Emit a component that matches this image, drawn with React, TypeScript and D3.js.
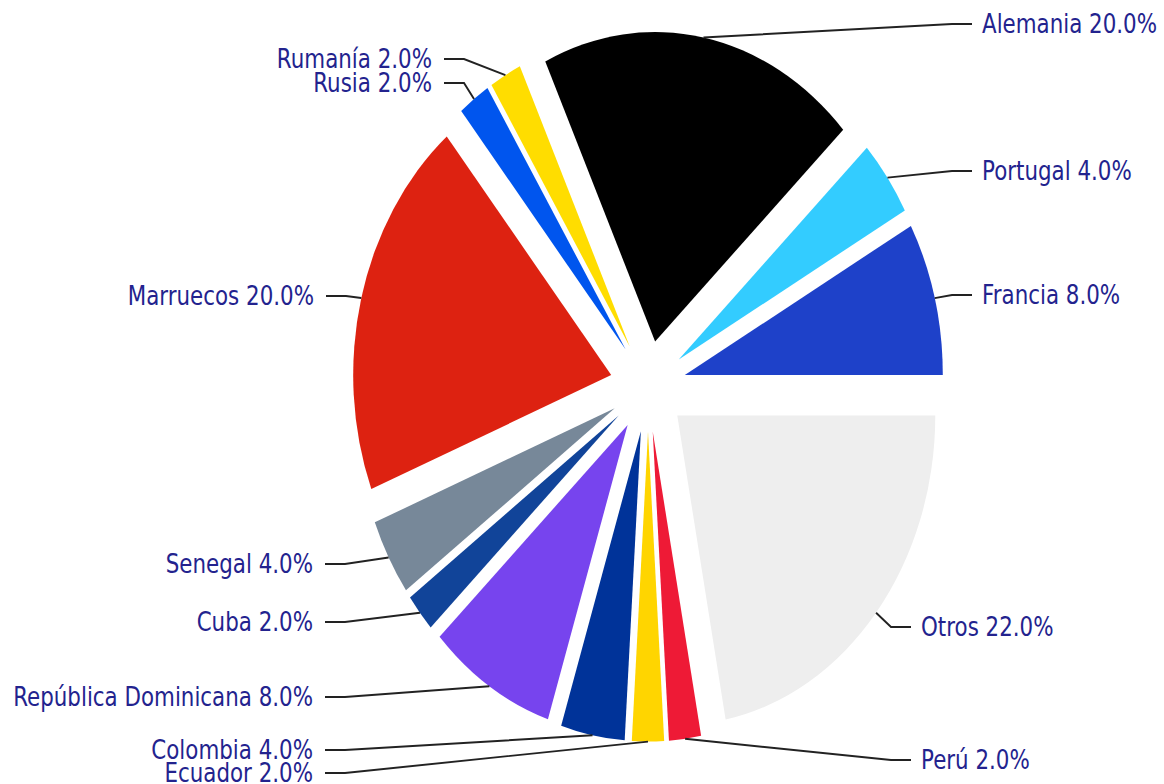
import React from "react";
import * as d3 from "d3";

const categories = [
  "Francia",
  "Portugal",
  "Alemania",
  "Rumanía",
  "Rusia",
  "Marruecos",
  "Senegal",
  "Cuba",
  "República Dominicana",
  "Colombia",
  "Ecuador",
  "Perú",
  "Otros",
];

const shares = [8, 4, 20, 2, 2, 20, 4, 2, 8, 4, 2, 2, 22];

const sliceColors = [
  "#1e41c9",
  "#33ccff",
  "#000000",
  "#ffdd00",
  "#0055ee",
  "#dd2211",
  "#778899",
  "#114499",
  "#7744ee",
  "#003399",
  "#ffd500",
  "#ee1a36",
  "#eeeeee",
];

// label layout (screen pixels): anchor x, centre-line y, side
const labelX = [982, 982, 982, 432, 432, 314, 313, 313, 313, 313, 313, 921, 921];
const labelY = [295, 171, 24, 59, 83, 296, 564, 622, 697, 750, 773, 760, 627];
const labelSide = ["R", "R", "R", "L", "L", "L", "L", "L", "L", "L", "L", "R", "R"];

const W = 1164;
const H = 784;
const SY = 1.2; // vertical stretch
const CX = 648;
const CY = 322; // in unstretched units
const R = 258;
const EXPLODE = 38;
const FONT = 21.4;

export default function App() {
  const total = d3.sum(shares);
  const pie = d3
    .pie<number>()
    .sort(null)
    .value((d) => d)
    .startAngle(Math.PI / 2)
    .endAngle(Math.PI / 2 - 2 * Math.PI);
  const arcs = pie(shares);
  const arcGen = d3.arc<d3.PieArcDatum<number>>().innerRadius(0).outerRadius(R);

  const slices = arcs.map((a, i) => {
    const mid = (a.startAngle + a.endAngle) / 2;
    const ux = Math.sin(mid);
    const uy = -Math.cos(mid);
    const ox = ux * EXPLODE;
    const oy = uy * EXPLODE;
    const sx = CX + ux * (R + EXPLODE);
    const sy = (CY + uy * (R + EXPLODE)) * SY;
    return { a, i, ox, oy, sx, sy };
  });

  return (
    <svg
      width={W}
      height={H}
      viewBox={`0 0 ${W} ${H}`}
      style={{ position: "absolute", left: 0, top: 0, background: "#fff" }}
    >
      <g transform={`scale(1,${SY})`}>
        <g transform={`translate(${CX},${CY})`}>
          {slices.map(({ a, i, ox, oy }) => (
            <path
              key={categories[i]}
              d={arcGen(a) || ""}
              transform={`translate(${ox},${oy})`}
              fill={sliceColors[i]}
            />
          ))}
        </g>
      </g>
      {slices.map(({ i, sx, sy }) => {
        const side = labelSide[i];
        const ly = labelY[i];
        const endX = side === "R" ? labelX[i] - 10 : labelX[i] + 12;
        const elbowX = side === "R" ? endX - 20 : endX + 20;
        const pct = ((shares[i] / total) * 100).toFixed(1) + "%";
        return (
          <g key={"lab" + i}>
            <polyline
              points={`${sx},${sy} ${elbowX},${ly} ${endX},${ly}`}
              fill="none"
              stroke="#222"
              strokeWidth={1.9}
            />
            <text
              transform={`translate(${labelX[i]},${ly}) scale(1,${SY})`}
              dy="0.365em"
              textAnchor={side === "R" ? "start" : "end"}
              fontFamily="DejaVu Sans"
              fontSize={FONT}
              fill="#23238e"
            >
              {categories[i] + " " + pct}
            </text>
          </g>
        );
      })}
    </svg>
  );
}
